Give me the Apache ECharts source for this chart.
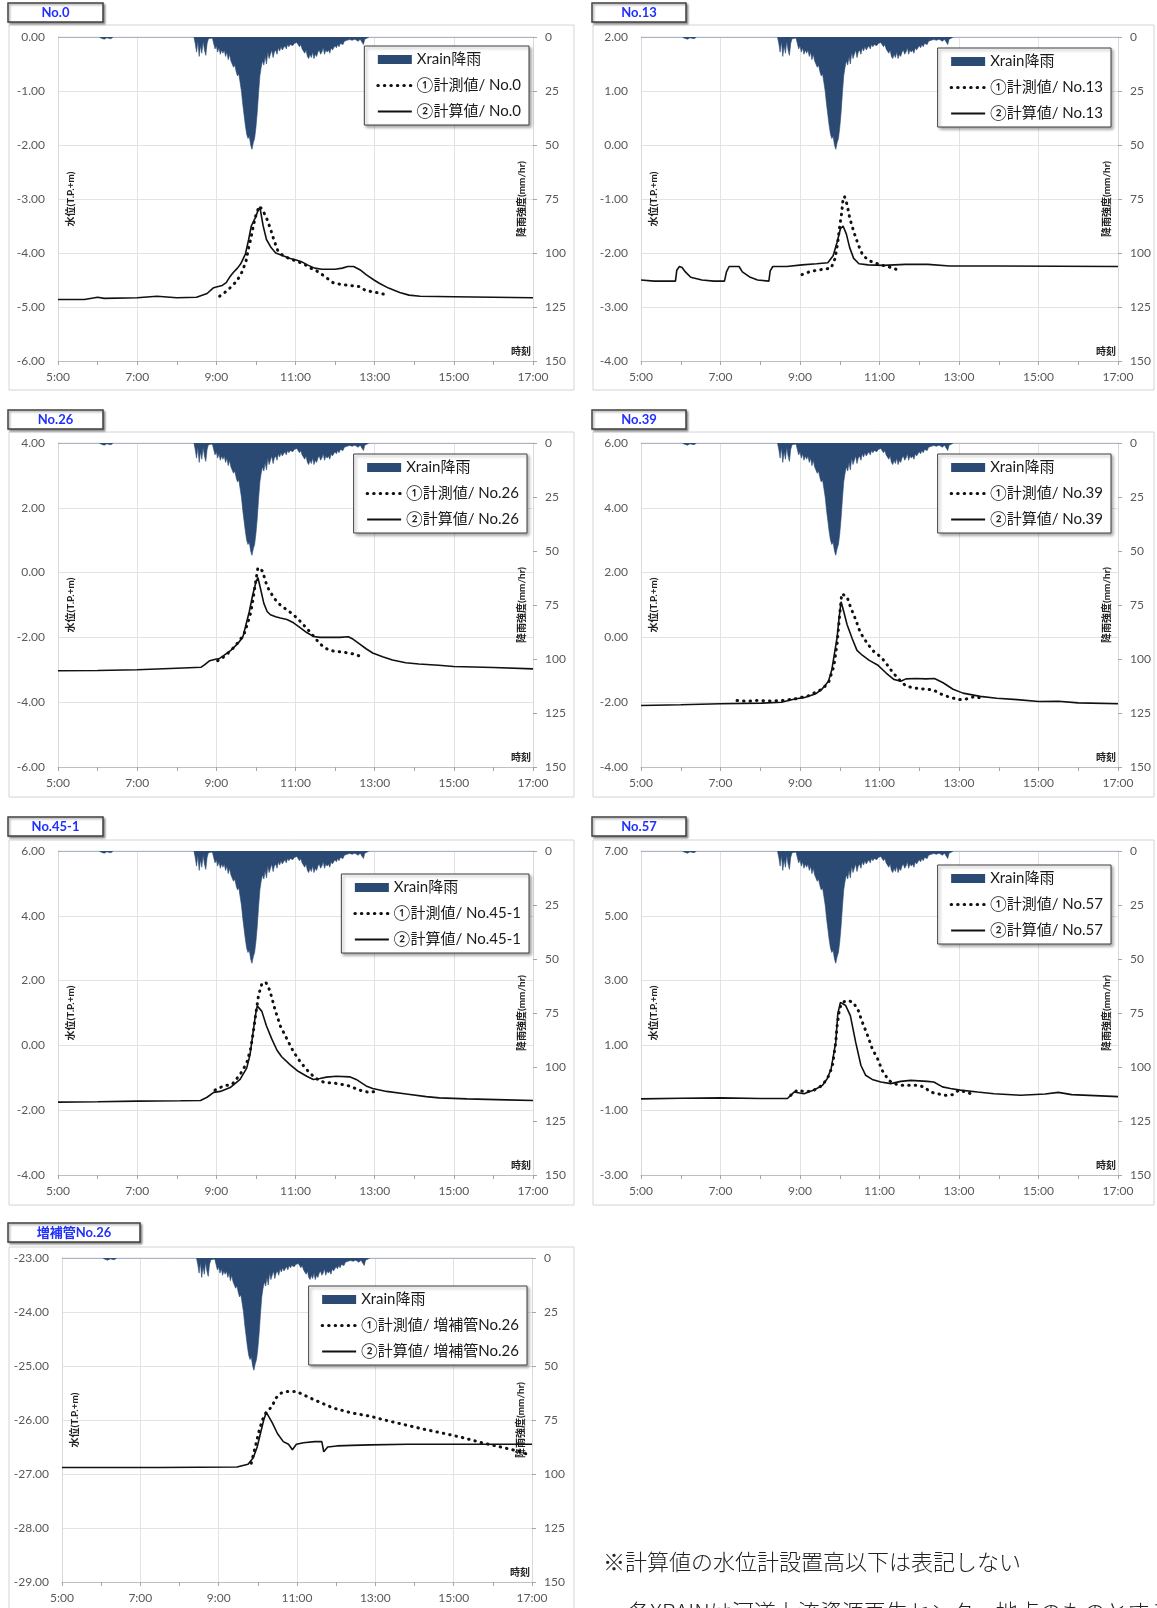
<!DOCTYPE html>
<html><head><meta charset="utf-8">
<script src="https://cdn.jsdelivr.net/npm/echarts@6/dist/echarts.min.js"></script>
<style>html,body{margin:0;padding:0;background:#fff}#c{width:1157px;height:1608px}</style>
</head><body><div id="c"></div>
<script>
// ---------- DATA (time = minutes after 5:00) ----------
const xTickStart = 5; // hour label of x = 0
const rightTicks = [0, 150, 25];
const rain = [[0,0],[14,0],[16,0.8],[18,0],[62,0],[66,0.6],[70,1.0],[74,0.4],[80,0.8],[84,0],[160,0],[163,0.7],[166,0],[206,0],[208,3],[210,7],[212,2],[214,9],[216,4],[218,7.5],[220,2],[222,6],[224,8.5],[226,3],[228,0.8],[231,0.3],[234,0.5],[236,3],[238,5.5],[240,4],[242,7],[244,5],[246,8],[248,6],[250,7.5],[252,6],[254,9],[256,7],[258,10.5],[260,8],[262,11],[264,12.5],[266,14],[268,13],[270,16],[272,18],[274,17],[276,21],[278,25],[280,31],[282,36],[284,41],[286,45],[288,47],[290,46],[292,50],[294,52],[296,49],[298,47],[300,42],[302,35],[304,26],[306,18],[308,14],[310,11],[312,13],[314,9],[316,12.5],[318,7],[320,10],[322,8],[324,6],[326,9.5],[328,7],[330,6],[332,8],[334,5],[336,6.5],[338,4.5],[340,6],[342,5],[344,4],[346,5.5],[348,3.5],[350,4.5],[352,3.5],[354,3],[356,4],[358,3],[360,3.5],[362,2.5],[364,3],[366,4.5],[368,3.5],[370,5.5],[372,6],[374,7.5],[376,6],[378,9],[380,10],[382,8],[384,9.5],[386,7],[388,10],[390,8],[392,9],[394,7],[396,6],[398,8],[400,7],[402,5],[404,8],[406,6],[408,7],[410,6],[412,7.5],[414,5],[416,6],[418,5],[420,4],[422,5],[424,3.5],[426,4.5],[428,3],[430,2.5],[432,3.5],[434,2],[436,2.5],[438,1.5],[440,2],[442,1.2],[446,1.5],[450,1],[455,2],[458,1],[461,0.8],[463,3.5],[465,1],[468,0.5],[472,0],[538,0],[541,0.6],[544,0],[720,0]];

const no0Calc = [[0,-4.86],[40,-4.86],[60,-4.82],[70,-4.84],[120,-4.83],[150,-4.80],[180,-4.83],[210,-4.82],[226,-4.75],[235,-4.65],[240,-4.63],[249,-4.6],[255,-4.55],[260,-4.45],[265,-4.37],[272,-4.28],[277,-4.2],[284,-4.02],[289,-3.75],[293,-3.5],[299,-3.35],[303,-3.22],[306,-3.15],[311,-3.5],[316,-3.75],[323,-3.9],[330,-4.0],[341,-4.05],[352,-4.1],[361,-4.13],[369,-4.16],[378,-4.22],[389,-4.28],[400,-4.3],[411,-4.3],[420,-4.3],[431,-4.28],[439,-4.25],[448,-4.25],[459,-4.32],[467,-4.4],[479,-4.5],[487,-4.56],[501,-4.65],[518,-4.73],[532,-4.78],[549,-4.8],[600,-4.81],[660,-4.82],[720,-4.83]];
const no0Obs = [[245,-4.8],[254,-4.72],[263,-4.62],[271,-4.52],[279,-4.35],[285,-4.15],[289,-3.9],[292,-3.75],[296,-3.5],[300,-3.3],[305,-3.13],[310,-3.2],[316,-3.35],[322,-3.55],[327,-3.75],[333,-3.95],[341,-4.05],[350,-4.1],[361,-4.15],[372,-4.2],[383,-4.28],[395,-4.35],[406,-4.45],[417,-4.55],[428,-4.58],[442,-4.6],[456,-4.62],[467,-4.7],[479,-4.72],[493,-4.76]];

const no13Calc = [[0,-2.5],[20,-2.52],[52,-2.52],[54,-2.32],[58,-2.25],[62,-2.27],[67,-2.35],[75,-2.45],[92,-2.5],[110,-2.52],[126,-2.52],[129,-2.35],[133,-2.25],[148,-2.25],[153,-2.35],[165,-2.45],[176,-2.5],[193,-2.52],[195,-2.33],[199,-2.25],[220,-2.25],[243,-2.22],[265,-2.2],[282,-2.18],[290,-2.05],[296,-1.8],[301,-1.55],[305,-1.5],[310,-1.65],[315,-1.9],[321,-2.1],[329,-2.2],[343,-2.22],[366,-2.23],[399,-2.21],[433,-2.21],[466,-2.24],[540,-2.24],[720,-2.25]];
const no13Obs = [[243,-2.4],[254,-2.35],[265,-2.32],[276,-2.3],[287,-2.28],[293,-2.1],[297,-1.8],[300,-1.5],[303,-1.25],[305,-1.0],[307,-0.95],[311,-1.1],[315,-1.35],[321,-1.6],[328,-1.85],[335,-2.05],[346,-2.15],[357,-2.2],[371,-2.25],[382,-2.28],[391,-2.35]];

const no26Calc = [[0,-3.03],[60,-3.02],[120,-3.0],[180,-2.95],[217,-2.92],[222,-2.85],[230,-2.72],[237,-2.68],[245,-2.65],[252,-2.55],[262,-2.4],[272,-2.2],[280,-2.0],[285,-1.6],[290,-1.2],[295,-0.7],[300,-0.3],[303,-0.15],[307,-0.5],[312,-0.95],[317,-1.2],[322,-1.3],[330,-1.36],[337,-1.4],[347,-1.45],[357,-1.55],[367,-1.7],[377,-1.85],[387,-1.97],[397,-2.0],[412,-2.0],[427,-2.0],[440,-1.98],[447,-2.05],[457,-2.2],[467,-2.35],[477,-2.48],[492,-2.6],[507,-2.7],[527,-2.78],[547,-2.82],[577,-2.86],[600,-2.9],[660,-2.93],[720,-2.97]];
const no26Obs = [[242,-2.72],[250,-2.62],[257,-2.5],[267,-2.3],[275,-2.1],[282,-1.9],[287,-1.6],[292,-1.25],[295,-0.9],[298,-0.5],[303,0.15],[310,0.05],[315,-0.3],[320,-0.55],[330,-0.85],[337,-1.0],[347,-1.15],[357,-1.3],[367,-1.5],[377,-1.72],[387,-1.95],[397,-2.2],[407,-2.35],[417,-2.42],[430,-2.45],[440,-2.48],[450,-2.52],[460,-2.6]];

const no39Calc = [[0,-2.1],[60,-2.08],[120,-2.05],[182,-2.03],[212,-2.0],[232,-1.9],[248,-1.85],[263,-1.75],[273,-1.6],[283,-1.35],[288,-1.0],[292,-0.5],[296,0.0],[299,0.6],[302,1.1],[306,0.8],[311,0.4],[319,-0.05],[326,-0.4],[334,-0.55],[344,-0.7],[357,-0.85],[370,-1.1],[382,-1.3],[392,-1.35],[400,-1.28],[415,-1.27],[430,-1.28],[443,-1.27],[456,-1.4],[471,-1.6],[486,-1.72],[512,-1.82],[537,-1.88],[568,-1.92],[600,-1.98],[630,-1.97],[660,-2.02],[720,-2.05]];
const no39Obs = [[145,-1.95],[160,-1.97],[175,-1.95],[195,-1.96],[212,-1.95],[232,-1.9],[253,-1.8],[273,-1.6],[283,-1.4],[291,-0.9],[296,-0.2],[299,0.5],[303,1.35],[311,1.25],[316,0.95],[324,0.55],[331,0.15],[342,-0.2],[352,-0.45],[362,-0.6],[370,-0.8],[377,-1.0],[385,-1.2],[392,-1.35],[400,-1.5],[410,-1.55],[420,-1.58],[430,-1.6],[441,-1.62],[453,-1.75],[466,-1.85],[481,-1.92],[491,-1.9],[504,-1.82],[514,-1.88]];

const no45Calc = [[0,-1.75],[60,-1.74],[120,-1.72],[186,-1.71],[216,-1.7],[226,-1.6],[236,-1.45],[246,-1.42],[261,-1.3],[276,-1.05],[286,-0.7],[291,-0.3],[295,0.3],[299,0.9],[302,1.22],[309,1.05],[316,0.6],[324,0.2],[332,-0.15],[339,-0.35],[352,-0.6],[364,-0.8],[377,-0.95],[387,-1.05],[397,-1.02],[407,-0.98],[422,-0.95],[442,-0.97],[452,-1.05],[467,-1.25],[477,-1.33],[498,-1.42],[528,-1.5],[558,-1.58],[578,-1.62],[620,-1.65],[680,-1.68],[720,-1.7]];
const no45Obs = [[238,-1.38],[251,-1.25],[264,-1.2],[276,-0.9],[286,-0.55],[292,-0.1],[296,0.4],[300,1.0],[304,1.55],[309,1.9],[315,1.95],[321,1.7],[329,1.1],[337,0.6],[347,0.2],[357,-0.2],[367,-0.5],[377,-0.75],[387,-0.95],[397,-1.1],[407,-1.15],[417,-1.15],[427,-1.2],[437,-1.22],[447,-1.3],[460,-1.4],[472,-1.45],[482,-1.42]];

const no57Calc = [[0,-0.65],[60,-0.63],[120,-0.62],[181,-0.64],[221,-0.64],[231,-0.44],[246,-0.49],[261,-0.38],[274,-0.23],[281,-0.03],[287,0.28],[294,1.1],[297,1.97],[301,2.33],[309,2.23],[316,1.92],[324,1.1],[332,0.38],[339,0.08],[349,-0.05],[362,-0.13],[377,-0.18],[392,-0.11],[407,-0.08],[432,-0.11],[442,-0.13],[455,-0.28],[467,-0.33],[482,-0.38],[508,-0.44],[533,-0.49],[573,-0.54],[610,-0.5],[630,-0.45],[650,-0.52],[720,-0.58]];
const no57Obs = [[226,-0.54],[236,-0.38],[249,-0.44],[261,-0.38],[274,-0.23],[284,0.08],[289,0.38],[294,1.1],[296,1.6],[299,2.03],[302,2.28],[309,2.38],[319,2.35],[327,2.13],[334,1.72],[342,1.31],[349,0.9],[357,0.59],[364,0.23],[374,-0.08],[382,-0.18],[392,-0.23],[404,-0.23],[417,-0.23],[427,-0.28],[437,-0.44],[447,-0.49],[460,-0.54],[470,-0.52],[480,-0.38],[498,-0.49]];

const zohoCalc = [[0,-26.88],[150,-26.88],[268,-26.87],[285,-26.82],[293,-26.7],[299,-26.5],[305,-26.2],[309,-26.0],[313,-25.86],[322,-26.05],[330,-26.25],[339,-26.4],[347,-26.45],[353,-26.55],[359,-26.45],[370,-26.42],[387,-26.4],[398,-26.4],[401,-26.59],[407,-26.5],[421,-26.48],[444,-26.47],[472,-26.46],[529,-26.45],[720,-26.45]];
const zohoObs = [[290,-26.8],[296,-26.5],[302,-26.2],[307,-26.0],[313,-25.85],[322,-25.75],[327,-25.6],[336,-25.5],[344,-25.47],[359,-25.47],[387,-25.63],[416,-25.78],[444,-25.87],[472,-25.93],[501,-26.02],[529,-26.1],[558,-26.18],[586,-26.25],[615,-26.33],[643,-26.42],[672,-26.5],[700,-26.58],[717,-26.65]];

const titles = ['No.0','No.13','No.26','No.39','No.45-1','No.57','増補管No.26'];
const yRanges = [[-6,0,1],[-4,2,1],[-6,4,2],[-4,6,2],[-4,6,2],[-3,7,2],[-29,-23,1]];
const calcs = [no0Calc,no13Calc,no26Calc,no39Calc,no45Calc,no57Calc,zohoCalc];
const obss = [no0Obs,no13Obs,no26Obs,no39Obs,no45Obs,no57Obs,zohoObs];
const rainName = 'Xrain降雨';
const footnote1 = '※計算値の水位計設置高以下は表記しない';
const footnote2 = '各XRAINは河道上流資源再生センター地点のものとする';

// ---------- LAYOUT ----------
const W = 1157;
const FONT = 'Lato, "Noto Sans CJK JP", sans-serif';
const RAIN = '#2a4a73';
const cols = [{l:58, r:533, fx:9, fw:565, tx:8}, {l:641, r:1118, fx:593, fw:561, tx:592}];
const rows = [{top:37, fy:25, ty:3}, {top:443, fy:432, ty:410}, {top:851, fy:840, ty:817}, {top:1258, fy:1247, ty:1223}];
const layout = [
  {c:0,r:0, lr:529, lt:46, tw:95},
  {c:1,r:0, lr:1111, lt:48, tw:94},
  {c:0,r:1, lr:527, lt:454, tw:95},
  {c:1,r:1, lr:1111, lt:454, tw:94},
  {c:0,r:2, lr:529, lt:874, tw:95},
  {c:1,r:2, lr:1111, lt:865, tw:94},
  {c:0,r:3, lr:527, lt:1286, tw:132, l:62, rr:532}
];
const PH = 324;

const grid=[], xAxis=[], yAxis=[], series=[], legend=[], graphic=[];
const noSym = {color:'rgba(0,0,0,0)', opacity:0, borderWidth:0};
titles.forEach((t, i) => {
  const L = layout[i], C = cols[L.c], R = rows[L.r];
  const left = L.l || C.l, right = L.rr || C.r;
  const [yMin, yMax, yStep] = yRanges[i];
  grid.push({left:left, top:R.top, width:right-left, height:PH});
  xAxis.push({gridIndex:i, type:'value', min:0, max:720, interval:120,
    axisLine:{show:true, onZero:false, lineStyle:{color:'#bfbfbf'}},
    axisTick:{show:true, length:4, lineStyle:{color:'#a6a6a6'}},
    minorTick:{show:true, splitNumber:2, length:4, lineStyle:{color:'#a6a6a6'}},
    splitLine:{show:true, lineStyle:{color:'#e3e3e3'}},
    axisLabel:{formatter:v => (xTickStart + v/60) + ':00', color:'#595959', fontSize:12, margin:10, fontFamily:FONT},
    name:'時刻', nameLocation:'end', nameGap:-2,
    nameTextStyle:{align:'right', verticalAlign:'bottom', fontSize:10, fontWeight:'bold', color:'#222', padding:[0,0,4,0], fontFamily:FONT}
  });
  yAxis.push({gridIndex:i, type:'value', min:0, max:yMax-yMin, interval:yStep, position:'left',
    axisLine:{show:true, lineStyle:{color:'#d9d9d9'}}, axisTick:{show:false},
    splitLine:{show:true, lineStyle:{color:'#e3e3e3'}},
    axisLabel:{formatter:v => (v + yMin).toFixed(2), color:'#595959', fontSize:12, margin:13, fontFamily:FONT},
    name:'水位(T.P.+m)', nameLocation:'middle', nameGap:-18, nameRotate:90,
    nameTextStyle:{fontSize:10, fontWeight:'bold', color:'#222', fontFamily:FONT}
  });
  yAxis.push({gridIndex:i, type:'value', min:rightTicks[0], max:rightTicks[1], interval:rightTicks[2], inverse:true, position:'right',
    axisLine:{show:true, lineStyle:{color:'#d9d9d9'}},
    axisTick:{show:true, length:4, lineStyle:{color:'#a6a6a6'}},
    splitLine:{show:false},
    axisLabel:{color:'#595959', fontSize:12, margin:12, fontFamily:FONT},
    name:'降雨強度(mm/hr)', nameLocation:'middle', nameGap:-16, nameRotate:90,
    nameTextStyle:{fontSize:10, fontWeight:'bold', color:'#222', fontFamily:FONT}
  });
  const obsName = '①計測値/ ' + t, calcName = '②計算値/ ' + t;
  series.push({type:'line', name:rainName, xAxisIndex:i, yAxisIndex:2*i+1, data:rain, symbol:'none',
    lineStyle:{width:0.6, color:RAIN}, itemStyle:{color:RAIN}, areaStyle:{color:RAIN, opacity:1, origin:'start'}, z:1, silent:true});
  series.push({type:'line', name:obsName, xAxisIndex:i, yAxisIndex:2*i, symbol:'none',
    data:obss[i].map(p => [p[0], p[1] - yMin]),
    lineStyle:{color:'#111', width:3, type:[0.5,6], cap:'round'}, itemStyle:{color:'#111'}, z:3});
  series.push({type:'line', name:calcName, xAxisIndex:i, yAxisIndex:2*i, symbol:'none',
    data:calcs[i].map(p => [p[0], p[1] - yMin]),
    lineStyle:{color:'#111', width:1.6}, itemStyle:{color:'#111'}, z:4});
  legend.push({right:W - L.lr, top:L.lt, orient:'vertical', itemWidth:34, itemHeight:9, itemGap:7,
    padding:[4,8,4,12], borderColor:'#404040', borderWidth:1, backgroundColor:'#fff',
    shadowColor:'rgba(0,0,0,0.35)', shadowBlur:3, shadowOffsetX:2, shadowOffsetY:2,
    selectedMode:false, textStyle:{fontSize:15, lineHeight:19, color:'#1a1a1a', fontFamily:FONT},
    data:[{name:rainName, icon:'rect', itemStyle:{color:RAIN, borderWidth:0}},
          {name:obsName, itemStyle:noSym, lineStyle:{width:3, type:[0.5,6], cap:'round', color:'#111'}},
          {name:calcName, itemStyle:noSym}]
  });
  graphic.push({type:'rect', shape:{x:C.fx, y:R.fy, width:C.fw, height:(L.r===3?400:365)}, style:{fill:null, stroke:'#d4d4d4', lineWidth:1}, z:-5, silent:true});
  graphic.push({type:'rect', shape:{x:C.tx, y:R.ty, width:L.tw, height:19},
    style:{fill:'#fff', stroke:'#404040', lineWidth:1.5, shadowColor:'rgba(0,0,0,0.35)', shadowBlur:2, shadowOffsetX:1.5, shadowOffsetY:1.5}, z:10, silent:true});
  graphic.push({type:'text', x:C.tx + L.tw/2, y:R.ty + 10,
    style:{text:t, fill:'#1f2fff', font:'bold 13px ' + FONT, textAlign:'center', textVerticalAlign:'middle'}, z:11, silent:true});
});
graphic.push({type:'text', x:603, y:1551, style:{text:footnote1, fill:'#222', font:'300 22px "Noto Sans CJK JP"', textVerticalAlign:'top'}, z:11, silent:true});
graphic.push({type:'text', x:628, y:1601, style:{text:footnote2, fill:'#222', font:'300 22px "Noto Sans CJK JP"', textVerticalAlign:'top'}, z:11, silent:true});

const chart = echarts.init(document.getElementById('c'), null, {renderer:'canvas'});
chart.setOption({animation:false, backgroundColor:'#fff', grid, xAxis, yAxis, series, legend, graphic});
</script></body></html>
